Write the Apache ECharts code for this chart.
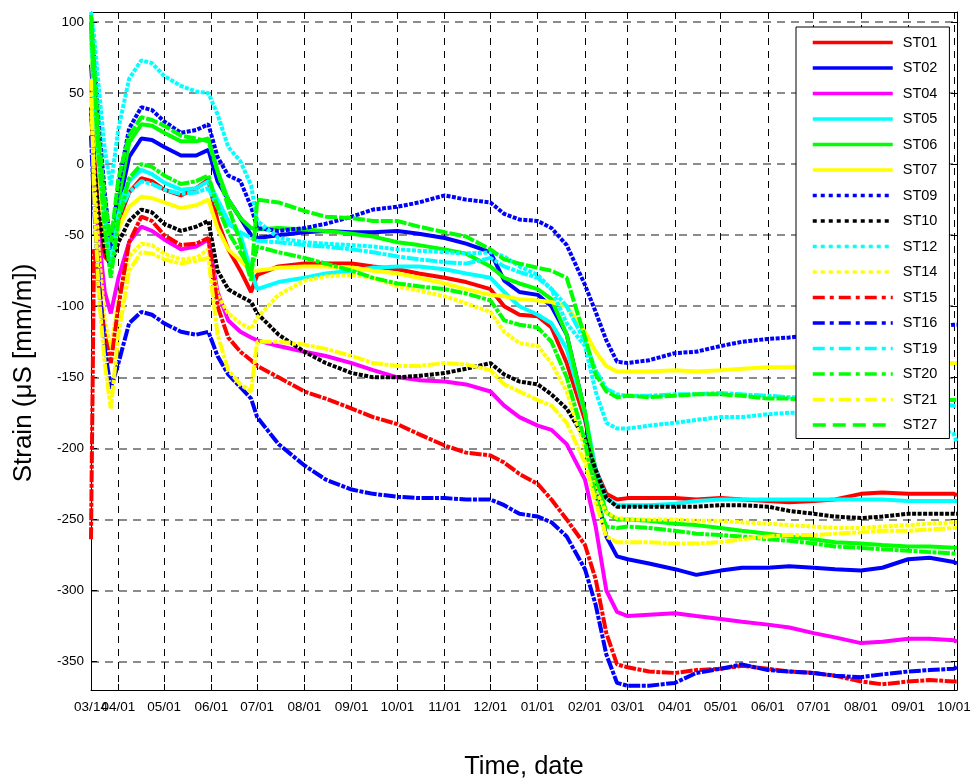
<!DOCTYPE html>
<html><head><meta charset="utf-8">
<script src="https://cdn.jsdelivr.net/npm/echarts@6/dist/echarts.min.js"></script>
<style>html,body{margin:0;padding:0;background:#fff}#c{width:974px;height:781px}</style>
</head><body><div id="c"></div>
<script>
// ---- data ----
const dates = ['2009-03-14','2009-03-16','2009-03-19','2009-03-23','2009-03-27','2009-04-01','2009-04-08','2009-04-16','2009-04-23','2009-05-01','2009-05-12','2009-05-22','2009-05-30','2009-06-05','2009-06-12','2009-06-20','2009-06-27','2009-07-01','2009-07-15','2009-08-01','2009-08-15','2009-09-01','2009-09-15','2009-10-01','2009-10-15','2009-11-01','2009-11-15','2009-12-01','2009-12-10','2009-12-20','2010-01-01','2010-01-10','2010-01-20','2010-02-01','2010-02-08','2010-02-15','2010-02-22','2010-03-01','2010-03-15','2010-04-01','2010-04-15','2010-05-01','2010-05-15','2010-06-01','2010-06-15','2010-07-01','2010-07-15','2010-08-01','2010-08-15','2010-09-01','2010-09-15','2010-10-01','2010-10-03'];
const ST01 = [60,10,-40,-65,-70,-40,-20,-10,-12,-18,-22,-17,-11,-40,-60,-75,-90,-78,-72,-70,-70,-70,-72,-74,-77,-80,-83,-88,-100,-106,-107,-115,-140,-180,-215,-232,-236,-235,-235,-235,-236,-235,-236,-237,-238,-237,-236,-232,-231,-232,-232,-232,-233];
const ST02 = [70,40,0,-40,-65,-30,5,18,17,12,6,6,10,-12,-25,-38,-50,-52,-50,-48,-47,-48,-48,-47,-49,-52,-56,-62,-82,-90,-92,-100,-120,-175,-230,-262,-276,-278,-281,-285,-289,-286,-284,-284,-283,-284,-285,-286,-284,-278,-277,-280,-281];
const ST04 = [40,-10,-50,-90,-105,-80,-55,-44,-47,-53,-60,-58,-53,-90,-110,-118,-122,-124,-128,-132,-135,-140,-145,-150,-152,-153,-155,-160,-170,-178,-184,-187,-197,-222,-255,-300,-315,-318,-317,-316,-318,-320,-322,-324,-326,-330,-333,-337,-336,-334,-334,-335,-336];
const ST05 = [90,50,10,-30,-70,-30,-12,-4,-7,-13,-18,-17,-12,-25,-40,-50,-75,-88,-83,-80,-77,-75,-73,-72,-72,-74,-77,-80,-90,-100,-106,-112,-130,-175,-215,-235,-240,-240,-240,-239,-237,-236,-236,-236,-236,-236,-236,-236,-236,-237,-237,-237,-237];
const ST06 = [100,60,10,-40,-70,-25,15,28,27,22,16,16,18,-5,-25,-38,-45,-46,-45,-46,-47,-49,-51,-55,-57,-60,-63,-72,-80,-84,-88,-95,-120,-175,-220,-245,-250,-250,-251,-253,-254,-256,-258,-260,-262,-264,-266,-267,-268,-269,-269,-270,-270];
const ST07 = [90,40,0,-55,-65,-45,-30,-23,-24,-27,-31,-29,-25,-45,-60,-68,-75,-75,-73,-72,-72,-73,-75,-77,-80,-84,-88,-92,-93,-95,-96,-97,-100,-118,-132,-142,-146,-146,-146,-145,-146,-145,-144,-143,-143,-142,-142,-142,-141,-141,-140,-140,-140];
const ST09 = [100,75,30,-20,-60,-15,25,40,38,30,22,24,28,5,-8,-12,-30,-45,-47,-45,-42,-37,-32,-30,-27,-22,-25,-27,-35,-39,-40,-45,-57,-85,-104,-124,-139,-140,-138,-133,-132,-128,-125,-123,-122,-120,-120,-118,-117,-116,-115,-113,-113];
const ST10 = [40,0,-35,-60,-72,-55,-40,-32,-34,-42,-47,-44,-40,-75,-88,-93,-97,-105,-120,-132,-140,-147,-150,-150,-149,-147,-144,-140,-148,-153,-155,-162,-172,-193,-215,-235,-241,-241,-241,-241,-241,-240,-240,-241,-244,-246,-248,-249,-248,-246,-246,-246,-246];
const ST12 = [107,90,55,10,-15,25,60,73,71,62,55,51,50,35,12,2,-15,-40,-52,-55,-56,-57,-58,-60,-61,-62,-63,-62,-65,-72,-78,-88,-112,-128,-160,-182,-186,-186,-184,-182,-180,-178,-178,-176,-175,-175,-176,-175,-176,-178,-182,-190,-196];
const ST14 = [50,-10,-60,-110,-130,-95,-65,-56,-57,-63,-67,-66,-60,-92,-105,-112,-116,-108,-92,-82,-79,-78,-80,-86,-89,-93,-98,-104,-118,-126,-128,-140,-160,-200,-230,-245,-249,-250,-250,-250,-251,-251,-252,-253,-254,-255,-256,-256,-255,-254,-253,-252,-252];
const ST15 = [-264,-60,-85,-120,-140,-100,-55,-37,-40,-50,-57,-56,-52,-100,-122,-132,-138,-142,-150,-160,-165,-172,-178,-183,-190,-198,-203,-205,-210,-218,-225,-236,-250,-268,-292,-330,-352,-354,-357,-358,-356,-355,-353,-355,-357,-358,-360,-364,-366,-364,-363,-364,-364];
const ST16 = [20,-30,-80,-130,-158,-140,-112,-104,-106,-112,-118,-120,-118,-135,-148,-157,-165,-178,-197,-212,-222,-229,-232,-234,-235,-235,-236,-236,-240,-246,-248,-252,-262,-285,-310,-345,-365,-367,-367,-365,-358,-355,-352,-356,-357,-358,-360,-361,-359,-357,-356,-355,-354];
const ST19 = [95,45,5,-35,-72,-35,-20,-12,-14,-18,-21,-20,-17,-30,-42,-48,-52,-54,-55,-57,-58,-60,-62,-65,-67,-69,-70,-66,-72,-76,-80,-88,-100,-125,-145,-158,-162,-163,-163,-162,-162,-161,-162,-163,-164,-164,-165,-166,-166,-167,-168,-170,-170];
const ST20 = [100,55,5,-45,-80,-40,-10,0,-2,-8,-14,-12,-8,-30,-48,-62,-75,-58,-62,-66,-70,-75,-80,-84,-86,-88,-91,-96,-110,-113,-115,-125,-150,-195,-235,-255,-256,-255,-256,-258,-260,-261,-262,-264,-265,-267,-269,-270,-271,-272,-273,-274,-274];
const ST21 = [60,-20,-90,-140,-172,-120,-75,-62,-63,-67,-70,-68,-66,-120,-145,-155,-160,-125,-125,-127,-130,-135,-140,-142,-142,-140,-141,-145,-155,-160,-166,-170,-182,-210,-238,-262,-266,-266,-266,-267,-267,-266,-264,-262,-261,-261,-260,-259,-258,-258,-257,-256,-256];
const ST27 = [105,70,20,-25,-55,-10,20,33,31,27,20,18,16,-5,-30,-55,-82,-25,-27,-33,-37,-38,-40,-40,-44,-48,-51,-60,-67,-70,-73,-75,-80,-122,-148,-160,-164,-163,-164,-163,-162,-162,-163,-165,-165,-166,-166,-166,-165,-165,-166,-166,-166];
const seriesNames = ['ST01','ST02','ST04','ST05','ST06','ST07','ST09','ST10','ST12','ST14','ST15','ST16','ST19','ST20','ST21','ST27'];
const seriesValues = [ST01,ST02,ST04,ST05,ST06,ST07,ST09,ST10,ST12,ST14,ST15,ST16,ST19,ST20,ST21,ST27];
const tickDates = ['2009-03-14','2009-04-01','2009-05-01','2009-06-01','2009-07-01','2009-08-01','2009-09-01','2009-10-01','2009-11-01','2009-12-01','2010-01-01','2010-02-01','2010-03-01','2010-04-01','2010-05-01','2010-06-01','2010-07-01','2010-08-01','2010-09-01','2010-10-01'];
const yTicks = [-350,-300,-250,-200,-150,-100,-50,0,50,100];
const xRange = ['2009-03-14','2010-10-03'];
const yRange = [-370, 107];

// ---- styles ----
const colors = ['#ff0000','#0000ff','#ff00ff','#00ffff','#00ff00','#ffff00','#0000ff','#000000','#00ffff','#ffff00','#ff0000','#0000ff','#00ffff','#00ff00','#ffff00','#00ff00'];
const kinds = ['solid','solid','solid','solid','solid','solid','dot','dot','dot','dot','dashdot','dashdot','dashdot','dashdot','dashdot','dash'];
const plotDash = {solid:'solid', dot:[4,1.5], dashdot:[12,1.5,4,1.5], dash:[12,2]};
const legendDash = {solid:'solid', dot:[4,4], dashdot:[12,5,4,5], dash:[13,7]};

const ts = s => { const p = s.split('-').map(Number); return Date.UTC(p[0], p[1]-1, p[2]); };
const t = dates.map(ts);
const pad = n => (n < 10 ? '0' : '') + n;
const fmt = v => { const d = new Date(v); return pad(d.getUTCMonth()+1) + '/' + pad(d.getUTCDate()); };
const FONT = 'Liberation Sans, Arial, Helvetica, sans-serif';
const xTickVals = tickDates.map(ts);
const LABEL = {fontSize:13.5, color:'#000', fontFamily:FONT};

const chart = echarts.init(document.getElementById('c'), null, {renderer:'canvas'});
const xBase = {
  type:'value', min: ts(xRange[0]), max: ts(xRange[1]), scale:true,
  axisLine:{show:true, onZero:false, lineStyle:{color:'#000', width:1}},
  axisTick:{show:true, inside:true, length:6, customValues:xTickVals, lineStyle:{color:'#000'}},
};
const yBase = {
  type:'value', min: yRange[0], max: yRange[1],
  axisLine:{show:true, onZero:false, lineStyle:{color:'#000', width:1}},
  axisTick:{show:true, inside:true, length:6, customValues:yTicks, lineStyle:{color:'#000'}},
};
chart.setOption({
  animation: false,
  backgroundColor: '#fff',
  grid: {left:91, right:17, top:12, bottom:91, containLabel:false, outerBoundsMode:'none'},
  xAxis: [
    Object.assign({}, xBase, {
      position:'bottom',
      name:'Time, date', nameLocation:'middle', nameGap:64,
      nameTextStyle:{fontSize:25.5, color:'#000', fontFamily:FONT},
      axisLabel:Object.assign({show:true, customValues:xTickVals.slice(1), formatter:(v)=>fmt(v), margin:10, hideOverlap:false}, LABEL),
      splitLine:{show:true, lineStyle:{color:'#000', width:1, type:[7,6]}}
    }),
    Object.assign({}, xBase, {position:'top', axisLabel:{show:false}, splitLine:{show:false}}),
    Object.assign({}, xBase, {position:'bottom', axisLine:{show:false}, axisTick:{show:false}, splitLine:{show:false},
      axisLabel:Object.assign({show:true, customValues:xTickVals.slice(0,1), formatter:(v)=>fmt(v), margin:10, showMinLabel:true}, LABEL)})
  ],
  yAxis: [
    Object.assign({}, yBase, {
      position:'left',
      name:'Strain (\u03bcS [mm/m])', nameLocation:'middle', nameGap:54,
      nameTextStyle:{fontSize:26, color:'#000', fontFamily:FONT, padding:[0,44,0,0]},
      axisLabel:Object.assign({show:true, customValues:yTicks, margin:7}, LABEL),
      splitLine:{show:true, lineStyle:{color:'#666', width:1.5, type:[8,6]}}
    }),
    Object.assign({}, yBase, {position:'right', axisLabel:{show:false}, splitLine:{show:false}})
  ],
  legend: {
    orient:'vertical', left:796, top:27,
    itemWidth:80, itemHeight:14, itemGap:10.5,
    padding:[8,12,6,15],
    backgroundColor:'#fff', borderColor:'#000', borderWidth:1,
    textStyle:{fontSize:14.5, color:'#000', fontFamily:FONT, padding:[0,0,0,5]},
    data: seriesNames.map((n,i)=>({name:n, itemStyle:{opacity:0}, lineStyle:{type:legendDash[kinds[i]], width:3.5, color:colors[i]}}))
  },
  series: seriesNames.map((n,i)=>({
    name:n, type:'line', xAxisIndex:0, yAxisIndex:0,
    data: t.map((x,j)=>[x, seriesValues[i][j]]),
    showSymbol:false, symbol:'none', smooth:false, clip:true,
    lineStyle:{color:colors[i], width:4, type:plotDash[kinds[i]]},
    itemStyle:{color:colors[i]},
    emphasis:{disabled:true}
  }))
});
</script>
</body></html>
